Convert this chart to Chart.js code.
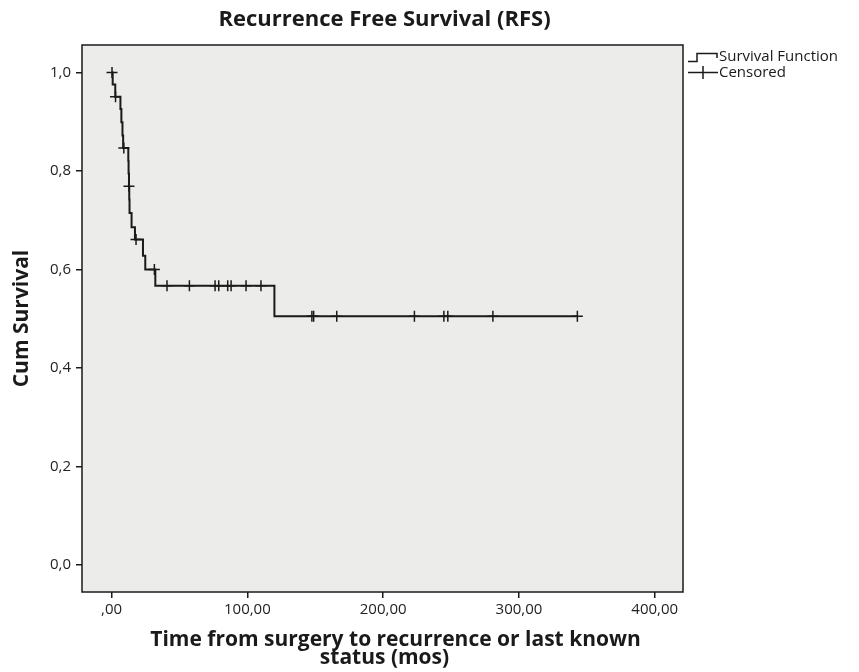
<!DOCTYPE html>
<html>
<head>
<meta charset="utf-8">
<script src="https://cdn.jsdelivr.net/npm/chart.js@4/dist/chart.umd.min.js"></script>
<style>
  html, body { margin: 0; padding: 0; background: #fff; }
  #wrap { width: 859px; height: 672px; }
</style>
</head>
<body>
<div id="wrap"><canvas id="rfs" width="859" height="672"></canvas></div>
<script>
// Kaplan-Meier step: time of each drop and survival after it
const stepTime = [0, 0.8, 2.7, 6.5, 7.2, 8.0, 8.5, 12.3, 12.5, 12.8, 13.0, 13.2, 14.7, 17.2, 23.1, 24.8, 32.2, 119.9, 343.0];
const stepSurv = [1.0, 0.976, 0.951, 0.926, 0.899, 0.872, 0.847, 0.821, 0.795, 0.769, 0.742, 0.715, 0.686, 0.661, 0.628, 0.600, 0.567, 0.505, 0.505];

// censored cases
const censTime = [0.3, 2.9, 9.0, 12.8, 18.0, 31.5, 40.8, 57.3, 76.2, 78.9, 85.5, 88.0, 99.0, 110.0, 147.5, 148.8, 165.8, 223.0, 244.7, 247.6, 280.8, 343.0];
const censSurv = [1.0, 0.951, 0.847, 0.769, 0.661, 0.600, 0.567, 0.567, 0.567, 0.567, 0.567, 0.567, 0.567, 0.567, 0.505, 0.505, 0.505, 0.505, 0.505, 0.505, 0.505, 0.505];

const xTicks = [0, 100, 200, 300, 400];
const xTickLabels = [",00", "100,00", "200,00", "300,00", "400,00"];
const yTicks = [0, 0.2, 0.4, 0.6, 0.8, 1.0];
const yTickLabels = ["0,0", "0,2", "0,4", "0,6", "0,8", "1,0"];

const TITLE = "Recurrence Free Survival (RFS)";
const X_TITLE = ["Time from surgery to recurrence or last known", "status (mos)"];
const Y_TITLE = "Cum Survival";

const FONT = "'Open Sans', 'Noto Sans', sans-serif";
const INK = "#1a1a1a";

function pairs(xs, ys) {
  return xs.map((x, i) => ({ x, y: ys[i] }));
}

const framePlugin = {
  id: "frame",
  beforeDatasetsDraw(chart) {
    const { ctx, chartArea: a } = chart;
    ctx.save();
    ctx.fillStyle = "#ecedeb";
    ctx.fillRect(a.left, a.top, a.right - a.left, a.bottom - a.top);
    ctx.restore();
  },
  afterDraw(chart) {
    const { ctx, chartArea: a } = chart;
    ctx.save();
    ctx.strokeStyle = INK;
    ctx.lineWidth = 1.5;
    ctx.strokeRect(a.left, a.top, a.right - a.left, a.bottom - a.top);

    ctx.fillStyle = INK;
    ctx.textAlign = "center";
    ctx.textBaseline = "middle";
    const cx = (a.left + a.right) / 2;
    ctx.font = "bold 22px " + FONT;
    ctx.fillText(TITLE, cx + 2, 20);
    ctx.font = "bold 21px " + FONT;
    ctx.fillText(X_TITLE[0], cx + 13, 640);
    ctx.fillText(X_TITLE[1], cx + 2, 658);

    ctx.save();
    ctx.translate(22, (a.top + a.bottom) / 2);
    ctx.rotate(-Math.PI / 2);
    ctx.fillText(Y_TITLE, 0, 0);
    ctx.restore();

    // legend
    ctx.lineWidth = 1.5;
    ctx.beginPath();
    ctx.moveTo(688, 61.5);
    ctx.lineTo(697, 61.5);
    ctx.lineTo(697, 53.5);
    ctx.lineTo(717, 53.5);
    ctx.lineTo(717, 58);
    ctx.stroke();
    ctx.beginPath();
    ctx.moveTo(688, 72.5);
    ctx.lineTo(718, 72.5);
    ctx.moveTo(703, 66);
    ctx.lineTo(703, 79);
    ctx.stroke();
    ctx.font = "15px " + FONT;
    ctx.textAlign = "left";
    ctx.fillText("Survival Function", 719, 57);
    ctx.fillText("Censored", 719, 73);
    ctx.restore();
  },
};

new Chart(document.getElementById("rfs"), {
  type: "scatter",
  data: {
    datasets: [
      {
        label: "Survival Function",
        type: "line",
        data: pairs(stepTime, stepSurv),
        stepped: "before",
        borderColor: INK,
        borderWidth: 2,
        pointRadius: 0,
        fill: false,
      },
      {
        label: "Censored",
        data: pairs(censTime, censSurv),
        pointStyle: "cross",
        pointRadius: 5.5,
        borderColor: INK,
        borderWidth: 1.5,
        backgroundColor: INK,
      },
    ],
  },
  options: {
    responsive: false,
    animation: false,
    layout: { padding: { left: 0, top: 45, right: 176, bottom: 0 } },
    plugins: {
      legend: { display: false },
      title: { display: false },
      tooltip: { enabled: false },
    },
    scales: {
      x: {
        type: "linear",
        min: -21.8,
        max: 420.8,
        afterBuildTicks: (s) => { s.ticks = xTicks.map((v) => ({ value: v })); },
        afterFit: (s) => { s.height = 80; },
        ticks: {
          padding: 3,
          color: "#222",
          font: { family: FONT, size: 15 },
          callback: (v) => xTickLabels[xTicks.indexOf(v)],
        },
        grid: { drawOnChartArea: false, drawTicks: true, tickLength: 6, color: INK, lineWidth: 1.5 },
        border: { display: false },
      },
      y: {
        type: "linear",
        min: -0.055,
        max: 1.056,
        afterBuildTicks: (s) => { s.ticks = yTicks.map((v) => ({ value: v })); },
        afterFit: (s) => { s.width = 82; },
        ticks: {
          padding: 5,
          color: "#222",
          font: { family: FONT, size: 15 },
          callback: (v) => yTickLabels[yTicks.findIndex((t) => Math.abs(t - v) < 1e-9)],
        },
        grid: { drawOnChartArea: false, drawTicks: true, tickLength: 6, color: INK, lineWidth: 1.5 },
        border: { display: false },
      },
    },
  },
  plugins: [framePlugin],
});
</script>
</body>
</html>
